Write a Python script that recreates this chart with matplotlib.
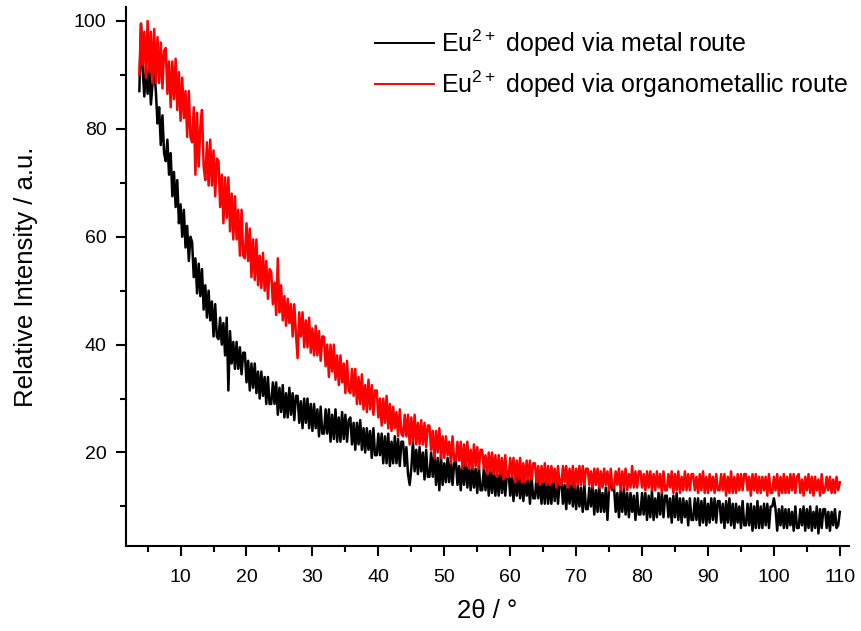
import numpy as np
import matplotlib
matplotlib.use("Agg")
import matplotlib.pyplot as plt

plt.rcParams['font.family'] = ['Liberation Sans', 'DejaVu Sans']
plt.rcParams['mathtext.fontset'] = 'custom'
plt.rcParams['mathtext.rm'] = 'Liberation Sans'
plt.rcParams['mathtext.it'] = 'Liberation Sans:italic'
plt.rcParams['mathtext.bf'] = 'Liberation Sans:bold'

# 2theta range of both scans (degrees)
two_theta_start = 3.75
two_theta_end = 110.0

# Eu2+ doped via metal route, every 0.25 deg
metal = [
    87, 99.5, 91, 86, 91.5, 86.5, 91.5, 84.5,
    88.5, 91, 87, 81, 84, 77, 82.5, 75.5,
    74, 78, 71.5, 75.5, 67.5, 72, 65.5, 70.5,
    62.5, 66, 60, 65, 58, 62, 55.5, 60,
    59, 52.5, 56, 49.5, 55, 49, 54, 46.5,
    51, 45, 50, 44.5, 48, 41.5, 47.5, 41.5,
    41, 45, 40, 44, 38, 45, 31.5, 42.5,
    36.5, 40.5, 35.5, 40.5, 35.5, 39.5, 34.5, 38.5,
    38.5, 33, 37, 31.5, 36.5, 32, 36.5, 31,
    35, 30, 35, 30.5, 34, 29, 34, 29,
    29, 33, 29, 33, 27, 32, 27.5, 32.5,
    26.5, 31, 26.5, 32, 27, 31, 26, 30.5,
    30.5, 25.5, 29.5, 24.5, 30, 25.5, 30, 24.5,
    29, 24, 29, 24.5, 28, 23, 28.5, 23.5,
    23.5, 28, 23.5, 28, 22, 27, 22.5, 28,
    22, 26.5, 22, 27.5, 22.5, 27, 22, 26,
    26.5, 21.5, 25.5, 20.5, 25.5, 21.5, 26, 20.5,
    24.5, 20, 24.5, 20.5, 24, 19, 24.5, 19.5,
    19.5, 23.5, 19.5, 23.5, 18, 23, 18, 23.5,
    17.5, 22, 18, 23, 18, 22.5, 17.5, 22,
    22, 17.5, 21, 16, 14, 17, 22, 16.5,
    20.5, 16, 21, 16.5, 20, 15, 20.5, 15.5,
    15.5, 20, 15.5, 20, 14, 19, 13, 19.5,
    14, 18, 14.5, 19, 14.5, 18.5, 14, 18,
    18.5, 14, 17.5, 13, 18, 14, 18.5, 13.5,
    17.5, 13, 17.5, 13.5, 17, 12.5, 17.5, 13,
    13, 17, 13, 17, 12, 16.5, 12.5, 17,
    12, 16, 12, 17, 12.5, 16.5, 12, 16,
    16.5, 12, 15.5, 11, 16, 12, 16.5, 11.5,
    15.5, 11, 15.5, 12, 15, 10.5, 15.5, 11.5,
    11.5, 15.5, 11.5, 15.5, 10.5, 15, 10.5, 15.5,
    10.5, 14.5, 10.5, 15.5, 11, 15, 10.5, 14.5,
    15, 10.5, 14, 9.5, 14.5, 10.5, 15, 10,
    14, 9.5, 14, 10, 13.5, 9, 14, 9.5,
    9.5, 13.5, 10, 14, 8.5, 13, 9, 14,
    9, 12.5, 9, 13.5, 7.5, 13.5, 14.5, 13,
    13.5, 9, 12.5, 8, 13, 9, 13.5, 8.5,
    12.5, 8, 12.5, 9, 12, 7.5, 12.5, 8.5,
    8.5, 12.5, 8.5, 12.5, 7.5, 12, 8, 13,
    7.5, 11.5, 8, 12.5, 8.5, 12.5, 8, 12,
    12, 8, 11.5, 7, 12, 8, 12.5, 7.5,
    11.5, 7, 11.5, 8, 11, 6.5, 11.5, 7.5,
    7.5, 11.5, 7.5, 11.5, 6.5, 11, 7, 11.5,
    6.5, 10.5, 7, 11.5, 7.5, 11.5, 7, 11,
    11, 7, 10.5, 6, 11, 7, 11.5, 6.5,
    10.5, 6, 10.5, 7, 10, 6, 11, 6.5,
    6.5, 10.5, 6.5, 10.5, 5.5, 10, 6, 11,
    6, 10, 6, 10.5, 6.5, 10.5, 6, 10,
    10, 11.5, 9.5, 5.5, 9.5, 6.5, 10, 6,
    9.5, 6, 9.5, 6.5, 9, 5.5, 10, 6,
    6, 9.5, 6.5, 10, 5.5, 9.5, 6, 10,
    5.5, 9, 6, 10, 5, 9.5, 6, 9.5,
    9.5, 6, 9, 5.5, 9, 6.5, 9.5, 6,
    6.5, 9,
]

# Eu2+ doped via organometallic route
organometallic = [
    90, 99.5, 92, 98, 89.5, 100, 90.5, 98,
    88.5, 98.5, 88.5, 97, 88.5, 96, 87.5, 94.5,
    95, 86.5, 92.5, 84, 92.5, 85.5, 93, 83.5,
    90.5, 81.5, 89.5, 82, 87, 78.5, 87, 78.5,
    77.5, 84, 71.5, 83, 73, 80.5, 83.5, 73,
    70.5, 77.5, 69.5, 78, 69.5, 76, 67.5, 74.5,
    74, 65.5, 71.5, 62.5, 71, 63.5, 71, 61,
    68, 59.5, 67.5, 59.5, 65, 56.5, 65, 56.5,
    56, 62.5, 55.5, 61.5, 52.5, 59.5, 52, 59.5,
    51, 56.5, 50.5, 57, 50, 55.5, 48.5, 54,
    53.5, 47.5, 51.5, 45.5, 56, 46, 51, 44.5,
    49, 43.5, 48.5, 44, 47.5, 41.5, 47.5, 42,
    37.5, 46, 41.5, 46, 39.5, 44.5, 39.5, 45,
    38.5, 43, 38, 43.5, 38, 42.5, 37, 41.5,
    41.5, 36, 40, 34, 40, 35, 40, 33.5,
    38, 32.5, 38, 33, 36.5, 31, 37, 31.5,
    31, 35.5, 30.5, 35.5, 29, 34, 29, 34.5,
    28, 32.5, 27.5, 33.5, 28, 32.5, 27, 31.5,
    31.5, 26.5, 30, 25, 30, 25.5, 30.5, 24.5,
    29, 24, 28.5, 24.5, 27.5, 23, 28, 23.5,
    23, 27, 23, 27, 21.5, 26.5, 22, 27,
    21.5, 25.5, 21.5, 26, 21.5, 25.5, 21, 25,
    25, 20.5, 24, 19, 24, 20, 24.5, 19,
    23, 19, 23, 19.5, 22, 18, 23, 18.5,
    18.5, 22, 18.5, 22, 17, 21.5, 17.5, 22,
    17, 20.5, 17, 21.5, 17.5, 21, 17, 20.5,
    20.5, 17, 19.5, 16, 20, 16.5, 20, 16,
    19.5, 15.5, 19.5, 16, 19, 15, 19.5, 15.5,
    15.5, 19, 15.5, 19, 14.5, 18.5, 15, 19,
    14.5, 18, 14.5, 18.5, 15, 18.5, 15, 18,
    18, 14.5, 17.5, 14, 17.5, 14.5, 18, 14,
    17.5, 14, 17.5, 14.5, 17, 13.5, 17.5, 14,
    14, 17.5, 14.5, 17.5, 13.5, 17, 14, 17.5,
    13.5, 17, 14, 17.5, 14, 17.5, 14, 17,
    17, 14, 16.5, 13.5, 17, 14, 17, 13.5,
    16.5, 13.5, 17, 14, 16.5, 13, 17, 13.5,
    13.5, 16.5, 14, 17, 13, 16.5, 13.5, 17,
    13, 16, 13.5, 17.5, 13.5, 16.5, 13.5, 16.5,
    16.5, 13.5, 16, 13, 16.5, 13.5, 16.5, 13,
    16, 13, 16.5, 13.5, 16, 12.5, 16.5, 13,
    13, 16, 13.5, 16.5, 12.5, 16, 13, 16.5,
    12.5, 15.5, 13, 16.5, 13, 16, 13, 16,
    16, 13, 15.5, 12.5, 16, 13, 16.5, 12.5,
    15.5, 12.5, 16, 13, 15.5, 12.5, 16, 13,
    13, 16, 13, 16, 12, 15.5, 12.5, 16.5,
    12.5, 15.5, 12.5, 16, 13, 16, 13, 16,
    16, 13, 15.5, 12, 16, 13, 16, 12.5,
    15.5, 12.5, 15.5, 13, 15.5, 12, 16, 12.5,
    12.5, 15.5, 13, 16, 12, 15.5, 12.5, 16,
    12.5, 15.5, 12.5, 16, 13, 16, 12.5, 15.5,
    16, 12.5, 15, 12, 15.5, 13, 16, 12.5,
    15.5, 12, 15.5, 13, 15, 12, 16, 12.5,
    13, 15.5, 13, 15.5, 12.5, 15, 12.5, 15.5,
    13, 14.5,
]

labels = ['Eu$^{2+}$ doped via metal route',
          'Eu$^{2+}$ doped via organometallic route']

x_metal = np.linspace(two_theta_start, two_theta_end, len(metal))
x_organo = np.linspace(two_theta_start, two_theta_end, len(organometallic))

fig = plt.figure(figsize=(8.62, 6.31), dpi=100)
ax = fig.add_axes([0.146, 0.135, 0.839, 0.854])

ax.plot(x_metal, metal, color='black', lw=1.8, label=labels[0])
ax.plot(x_organo, organometallic, color='red', lw=1.8, label=labels[1])

ax.set_xlim(1.7, 111.4)
ax.set_ylim(2.7, 102.6)
ax.set_xticks(np.arange(10, 111, 10))
ax.set_xticks(np.arange(5, 111, 10), minor=True)
ax.set_yticks(np.arange(20, 101, 20))
ax.set_yticks(np.arange(10, 101, 20), minor=True)

for side in ['top', 'right']:
    ax.spines[side].set_visible(False)
for side in ['left', 'bottom']:
    ax.spines[side].set_linewidth(1.5)
ax.tick_params(which='major', direction='out', length=7, width=1.5, labelsize=14)
ax.tick_params(which='minor', direction='out', length=4, width=1.5)
ax.tick_params(axis='x', which='major', pad=10)
ax.tick_params(axis='y', which='major', pad=7)

ax.set_xlabel('2θ / °', fontsize=18.5, labelpad=9)
ax.set_ylabel('Relative Intensity / a.u.', fontsize=18.5, labelpad=26)

leg = ax.legend(loc='upper right', bbox_to_anchor=(0.999, 0.962), frameon=False,
                fontsize=18, handlelength=2.35, handletextpad=0.3, labelspacing=0.38,
                borderpad=0, borderaxespad=0)
for line in leg.get_lines():
    line.set_linewidth(1.4)

fig.savefig('out.png', dpi=100)
